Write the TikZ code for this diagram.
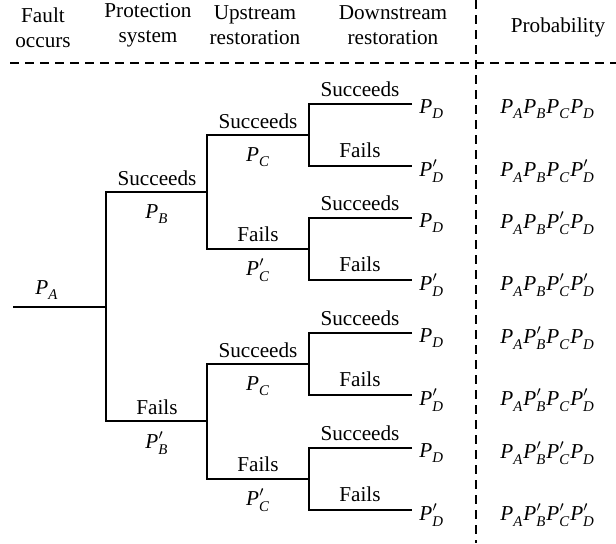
\documentclass[tikz,border=0pt]{standalone}
\usepackage{amsmath}
\usepackage{fontspec}
\setmainfont{Liberation Serif}
\usepackage{tikz}
\usetikzlibrary{positioning,calc}

\newcommand{\pP}[2][]{\textit{P}_{\textit{#2}}^{#1}}

\begin{document}
\begin{tikzpicture}[
    x=0.5pt, y=-0.5pt,
    font=\fontsize{10.6}{12.5}\selectfont,
    branch/.style={line width=1.25pt, line join=miter},
    sep/.style={line width=1.1pt, dash pattern=on 4.5pt off 3pt},
    head/.style={align=center, inner sep=0pt},
    lbl/.style={inner sep=0pt},
    prob/.style={inner sep=0pt, anchor=west}
]
\useasboundingbox (0,0) rectangle (616,543);

% headers
\node[head] (hA) at (43,28) {Fault\\occurs};
\node[head] (hB) at (148,25) {Protection\\system};
\node[head] (hC) at (255,25) {Upstream\\restoration};
\node[head] (hD) at (393,25) {Downstream\\restoration};
\node[head] (hP) at (558,27) {Probability};

\draw[sep] (10,63) -- (616,63);
\draw[sep] (476,0) -- (476,543);

% tree points
\coordinate (s) at (13,307);
\coordinate (a) at (106,307);
\coordinate (b1) at (207,192);
\coordinate (b2) at (207,421);
\coordinate (c1) at (309,135);
\coordinate (c2) at (309,249);
\coordinate (c3) at (309,364);
\coordinate (c4) at (309,479);
\coordinate (d1) at (412,104);
\coordinate (d2) at (412,166);
\coordinate (d3) at (412,218);
\coordinate (d4) at (412,280);
\coordinate (d5) at (412,333);
\coordinate (d6) at (412,395);
\coordinate (d7) at (412,448);
\coordinate (d8) at (412,510);

\draw[branch] (s) -- (a);
\draw[branch] (b1) -| (a) |- (b2);
\draw[branch] (c1) -| (b1) |- (c2);
\draw[branch] (c3) -| (b2) |- (c4);
\draw[branch] (d1) -| (c1) |- (d2);
\draw[branch] (d3) -| (c2) |- (d4);
\draw[branch] (d5) -| (c3) |- (d6);
\draw[branch] (d7) -| (c4) |- (d8);

% fault
\node[lbl] (pA) at (47,290) {$\pP{A}$};

% protection system
\node[lbl] (sB) at (157,178) {Succeeds};
\node[lbl] (pB) at (157,214) {$\pP{B}$};
\node[lbl] (fB) at (157,407) {Fails};
\node[lbl] (qB) at (157,443) {$\pP[\prime]{B}$};

% upstream restoration
\node[lbl] (sC1) at (258,121) {Succeeds};
\node[lbl] (pC1) at (258,157) {$\pP{C}$};
\node[lbl] (fC1) at (258,234) {Fails};
\node[lbl] (qC1) at (258,270) {$\pP[\prime]{C}$};
\node[lbl] (sC2) at (258,350) {Succeeds};
\node[lbl] (pC2) at (258,386) {$\pP{C}$};
\node[lbl] (fC2) at (258,464) {Fails};
\node[lbl] (qC2) at (258,500) {$\pP[\prime]{C}$};

% downstream restoration
\node[lbl] (sD1) at (360,89) {Succeeds};
\node[lbl] (fD1) at (360,150) {Fails};
\node[lbl] (sD2) at (360,203) {Succeeds};
\node[lbl] (fD2) at (360,264) {Fails};
\node[lbl] (sD3) at (360,318) {Succeeds};
\node[lbl] (fD3) at (360,379) {Fails};
\node[lbl] (sD4) at (360,433) {Succeeds};
\node[lbl] (fD4) at (360,494) {Fails};

\node[prob] (e1) at (419,109) {$\pP{D}$};
\node[prob] (e2) at (419,171) {$\pP[\prime]{D}$};
\node[prob] (e3) at (419,223) {$\pP{D}$};
\node[prob] (e4) at (419,285) {$\pP[\prime]{D}$};
\node[prob] (e5) at (419,338) {$\pP{D}$};
\node[prob] (e6) at (419,400) {$\pP[\prime]{D}$};
\node[prob] (e7) at (419,453) {$\pP{D}$};
\node[prob] (e8) at (419,515) {$\pP[\prime]{D}$};

% probability
\node[prob] (r1) at (500,109) {$\pP{A}\pP{B}\pP{C}\pP{D}$};
\node[prob] (r2) at (500,171) {$\pP{A}\pP{B}\pP{C}\pP[\prime]{D}$};
\node[prob] (r3) at (500,223) {$\pP{A}\pP{B}\pP[\prime]{C}\pP{D}$};
\node[prob] (r4) at (500,285) {$\pP{A}\pP{B}\pP[\prime]{C}\pP[\prime]{D}$};
\node[prob] (r5) at (500,338) {$\pP{A}\pP[\prime]{B}\pP{C}\pP{D}$};
\node[prob] (r6) at (500,400) {$\pP{A}\pP[\prime]{B}\pP{C}\pP[\prime]{D}$};
\node[prob] (r7) at (500,453) {$\pP{A}\pP[\prime]{B}\pP[\prime]{C}\pP{D}$};
\node[prob] (r8) at (500,515) {$\pP{A}\pP[\prime]{B}\pP[\prime]{C}\pP[\prime]{D}$};
\end{tikzpicture}
\end{document}
